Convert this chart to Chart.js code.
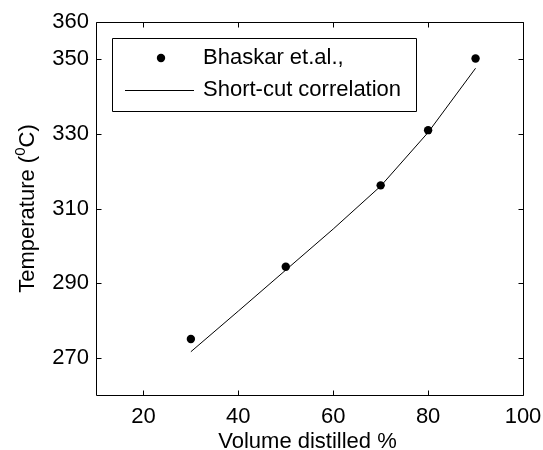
<!DOCTYPE html>
<html><head><meta charset="utf-8">
<script src="https://cdn.jsdelivr.net/npm/chart.js@4"></script>
<style>html,body{margin:0;padding:0;background:#fff}#wrap{width:543px;height:450px}</style>
</head><body><div id="wrap"><canvas id="c" width="543" height="450"></canvas></div>
<script>
// Measured boiling points
const volumePct = [30, 50, 70, 80, 90];
const measuredTemp = [275.0, 294.4, 316.2, 331.0, 350.2];
// Short-cut correlation curve
const correlationPct = [30, 40, 50, 60, 70, 80, 90];
const correlationTemp = [271.6, 282.5, 293.5, 304.5, 316.0, 330.4, 347.6];
// Axis ticks
const xTicks = [20, 40, 60, 80, 100];
const yTicks = [270, 290, 310, 330, 350, 360];
const seriesNames = ['Bhaskar et.al.,', 'Short-cut correlation'];
const xTitle = 'Volume distilled %';
const yTitleParts = ['Temperature (', '0', 'C)'];

const FONT = 'Arial, "Liberation Sans", sans-serif';

function px(v) { return Math.round(v) + 0.5; }

const framePlugin = {
  id: 'frame',
  afterDraw(chart) {
    const ctx = chart.ctx, a = chart.chartArea;
    const xs = chart.scales.x, ys = chart.scales.y;
    const L = px(a.left), R = px(a.right), T = px(a.top), B = px(a.bottom);
    const tl = 5;
    ctx.save();
    ctx.strokeStyle = '#000';
    ctx.lineWidth = 1;
    ctx.beginPath();
    ctx.rect(L, T, R - L, B - T);
    ctx.stroke();
    ctx.beginPath();
    xTicks.forEach(v => {
      const x = px(xs.getPixelForValue(v));
      ctx.moveTo(x, B); ctx.lineTo(x, B - tl);
      ctx.moveTo(x, T); ctx.lineTo(x, T + tl);
    });
    yTicks.forEach(v => {
      const y = px(ys.getPixelForValue(v));
      ctx.moveTo(L, y); ctx.lineTo(L + tl, y);
      ctx.moveTo(R, y); ctx.lineTo(R - tl, y);
    });
    ctx.stroke();

    // axis titles
    ctx.fillStyle = '#000';
    ctx.font = '22px ' + FONT;
    ctx.textAlign = 'center';
    ctx.textBaseline = 'alphabetic';
    ctx.fillText(xTitle, (a.left + a.right) / 2 - 2, 448);

    ctx.save();
    ctx.translate(34, (a.top + a.bottom) / 2);
    ctx.rotate(-Math.PI / 2);
    ctx.textAlign = 'left';
    const big = '22px ' + FONT, small = '15px ' + FONT;
    ctx.font = big; const w0 = ctx.measureText(yTitleParts[0]).width;
    ctx.font = small; const w1 = ctx.measureText(yTitleParts[1]).width;
    ctx.font = big; const w2 = ctx.measureText(yTitleParts[2]).width;
    let x0 = -(w0 + w1 + w2) / 2;
    ctx.font = big; ctx.fillText(yTitleParts[0], x0, 0); x0 += w0;
    ctx.font = small; ctx.fillText(yTitleParts[1], x0, -9); x0 += w1;
    ctx.font = big; ctx.fillText(yTitleParts[2], x0, 0);
    ctx.restore();

    // legend box
    const bx = 112, by = 38, bw = 304, bh = 73;
    ctx.fillStyle = '#fff';
    ctx.fillRect(bx, by, bw, bh);
    ctx.beginPath();
    ctx.rect(px(bx), px(by), bw, bh);
    ctx.stroke();
    const ds = chart.data.datasets;
    ctx.fillStyle = '#000';
    ctx.beginPath();
    ctx.arc(161, 58, ds[0].pointRadius, 0, Math.PI * 2);
    ctx.fill();
    ctx.beginPath();
    ctx.moveTo(125, 90.5); ctx.lineTo(194, 90.5);
    ctx.lineWidth = ds[1].borderWidth;
    ctx.stroke();
    ctx.font = '22px ' + FONT;
    ctx.textAlign = 'left';
    ctx.textBaseline = 'middle';
    ctx.fillText(ds[0].label, 203, 58);
    ctx.fillText(ds[1].label, 203, 90);
    ctx.restore();
  }
};

new Chart(document.getElementById('c'), {
  type: 'scatter',
  data: {
    datasets: [
      {
        label: seriesNames[0],
        data: volumePct.map((x, i) => ({ x, y: measuredTemp[i] })),
        pointRadius: 4.2,
        pointBackgroundColor: '#000',
        pointBorderColor: '#000',
        pointBorderWidth: 0,
        showLine: false
      },
      {
        label: seriesNames[1],
        data: correlationPct.map((x, i) => ({ x, y: correlationTemp[i] })),
        showLine: true,
        borderColor: '#000',
        borderWidth: 1,
        pointRadius: 0,
        tension: 0
      }
    ]
  },
  options: {
    responsive: false,
    animation: false,
    devicePixelRatio: 1,
    layout: { padding: { top: 22, right: 20, left: 0, bottom: 0 } },
    plugins: { legend: { display: false }, tooltip: { enabled: false } },
    scales: {
      x: {
        type: 'linear', min: 10, max: 100,
        afterBuildTicks: s => { s.ticks = xTicks.map(v => ({ value: v })); },
        afterFit: s => { s.height = 55; s.paddingLeft = 0; s.paddingRight = 0; },
        grid: { display: false, drawTicks: false },
        border: { display: false },
        ticks: { color: '#000', font: { family: FONT, size: 22 }, padding: 9, maxRotation: 0 }
      },
      y: {
        type: 'linear', min: 260, max: 360,
        afterBuildTicks: s => { s.ticks = yTicks.map(v => ({ value: v })); },
        afterFit: s => { s.width = 96; s.paddingTop = 0; s.paddingBottom = 0; },
        grid: { display: false, drawTicks: false },
        border: { display: false },
        ticks: { color: '#000', font: { family: FONT, size: 22 }, padding: 7 }
      }
    }
  },
  plugins: [framePlugin]
});
</script></body></html>
